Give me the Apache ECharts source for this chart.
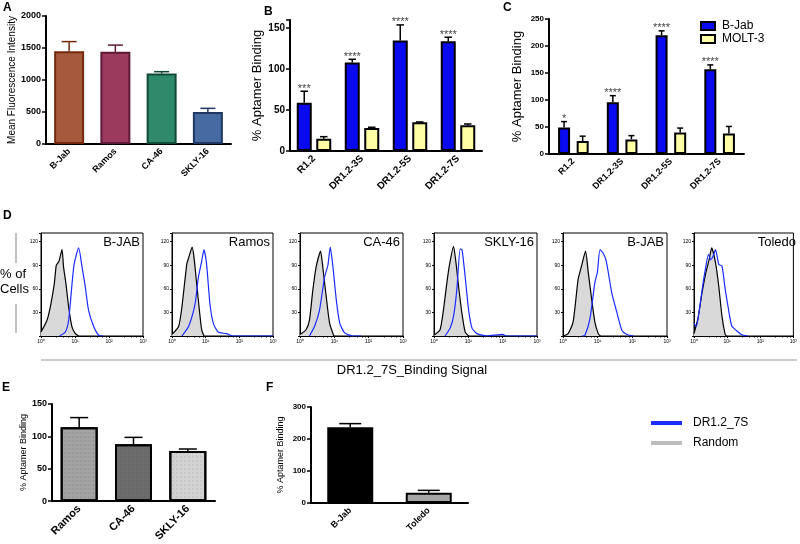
<!DOCTYPE html>
<html><head><meta charset="utf-8">
<script src="https://cdn.jsdelivr.net/npm/echarts@6/dist/echarts.min.js"></script>
<style>html,body{margin:0;padding:0;background:#fff}#c{width:800px;height:544px}</style>
</head><body><div id="c"></div><script>
const FONT = 'Liberation Sans, Arial, sans-serif';

// ---- Panel A ----
const aCats = ['B-Jab', 'Ramos', 'CA-46', 'SKLY-16'];
const aVals = [1450, 1440, 1100, 500];
const aErrs = [150, 105, 30, 57];

// ---- Panel B ----
const bCats = ['R1.2', 'DR1.2-3S', 'DR1.2-5S', 'DR1.2-7S'];
const bBjab = [59, 108, 135, 134];
const bBjabErr = [14, 4, 19, 5];
const bMolt = [15, 28, 35, 31.5];
const bMoltErr = [2.5, 1, 0.5, 1.5];
const bStars = ['***', '****', '****', '****'];

// ---- Panel C ----
const cCats = ['R1.2', 'DR1.2-3S', 'DR1.2-5S', 'DR1.2-7S'];
const cBjab = [49, 96, 220, 157];
const cBjabErr = [11, 12, 8, 8];
const cMolt = [24, 27, 40, 38];
const cMoltErr = [9, 7, 8, 13];
const cStars = ['*', '****', '****', '****'];

// ---- Panel E ----
const eCats = ['Ramos', 'CA-46', 'SKLY-16'];
const eVals = [114, 88, 77.5];
const eErrs = [15, 10.5, 3];

// ---- Panel F ----
const fCats = ['B-Jab', 'Toledo'];
const fVals = [237, 32];
const fErrs = [11, 7.5];

// ---- Panel D (flow histograms: [signal, % of cells]) ----
const dTitles = ['B-JAB', 'Ramos', 'CA-46', 'SKLY-16', 'B-JAB', 'Toledo'];
const dLogTicks = ['10\u2070', '10\u00b9', '10\u00b2', '10\u00b3'];
const rand1 = [[1,5],[1.5,20],[1.88,37],[2.47,67],[2.82,90],[3.38,95],[4.15,110],[4.6,88],[5.4,67],[6.5,37],[8.1,12],[10.2,3],[12.8,0]];
const apt1  = [[3.5,0],[5.2,5],[6.5,20],[8.2,67],[9.5,92],[12.8,112],[16.1,88],[20,63],[25,33],[35.5,12],[49.7,1],[69,0]];
const rand2 = [[1,2],[1.57,12],[1.97,37],[2.76,92],[3.1,99],[3.97,113],[4.5,100],[5.4,67],[6.5,33],[7.6,8],[8.9,0]];
const apt2  = [[1.97,0],[3.1,12],[4.85,41],[6.1,75],[7.6,95],[8.9,110],[10.6,92],[13.4,41],[16.9,16],[23.5,5],[41.6,3],[65,0],[1000,0]];
const rand3 = [[1,2],[1.5,8],[1.88,20],[2.36,58],[2.95,88],[3.96,108],[4.6,88],[5.8,50],[7.3,16],[9.5,1],[10,0]];
const apt3  = [[1.88,0],[2.64,12],[3.7,33],[5.2,75],[6.5,90],[7.6,113],[9.1,88],[11.4,46],[14.4,16],[20,4],[35,0],[60,0]];
const rand4 = [[1,1],[1.5,8],[1.88,33],[2.36,67],[2.76,88],[3.7,114],[4.4,92],[5.2,63],[6.5,29],[8.1,5],[10.2,0]];
const apt4  = [[2.1,0],[2.95,10],[3.7,25],[4.6,58],[5.8,111],[6.6,109],[8.1,75],[10.2,33],[12.8,10],[17.9,3],[35,0],[100,2],[130,0],[1000,0]];
const rand5 = [[1,0],[1.4,3],[1.96,18],[2.73,72],[3.42,89],[4.47,108],[5.35,81],[6.7,47],[8.3,18],[10.4,3],[12,0]];
const apt5  = [[3.5,0],[4.3,1],[6.0,22],[8.3,68],[9.8,81],[11.7,110],[14.6,105],[17.5,96],[20.4,80],[25.5,55],[35.8,30],[50,7],[70,2],[109,0]];
const rand6 = [[1,3],[1.31,22],[1.75,55],[2.29,81],[2.86,97],[3.42,112],[4.47,93],[5.6,63],[7.0,25],[8.7,2],[9.5,0]];
const apt6  = [[1,16],[1.17,12],[1.46,34],[1.83,64],[2.29,89],[2.74,104],[3.2,97],[3.74,101],[4.47,110],[5.6,91],[7.0,89],[8.7,60],[11,34],[13.7,13],[19,7],[26.8,2],[41.6,0]];
const dRandom = [rand1, rand2, rand3, rand4, rand5, rand6];
const dAptamer = [apt1, apt2, apt3, apt4, apt5, apt6];

// ---- styles / layout ----
const aFill = ['#a65a3c', '#9c3a5e', '#2f8a6c', '#476aa3'];
const aEdge = ['#74290f', '#5c1a36', '#124a38', '#1f3761'];
const eFill = ['#a3a3a3', '#6c6c6c', '#d2d2d2'];
const fFill = ['#000000', '#a6a6a6'];
const blue = '#0a0af0', yellow = '#ffffa6';
const dLeft = [41, 172, 300, 434, 563, 694];
const dWidth = [102, 101, 103, 103, 104, 105];

const grids = [
  {left: 46, top: 16, width: 185, height: 128},   // A
  {left: 290, top: 20, width: 192, height: 131},  // B
  {left: 549, top: 19, width: 195, height: 135},  // C
];
dLeft.forEach((l, i) => grids.push({left: l, top: 233, width: dWidth[i], height: 103,
  show: true, borderColor: '#000', borderWidth: 1, backgroundColor: 'transparent'}));
grids.push({left: 52, top: 404, width: 163, height: 102});  // E (index 9)
grids.push({left: 311, top: 407, width: 157, height: 96});  // F (index 10)

function catAxis(gi, cats, fs) {
  return {type: 'category', gridIndex: gi, data: cats,
    axisLine: {lineStyle: {color: '#000', width: 2}},
    axisTick: {alignWithLabel: true, length: 4, lineStyle: {color: '#000', width: 1.5}},
    axisLabel: {rotate: 45, fontSize: fs, fontWeight: 'bold', color: '#000', fontFamily: FONT, margin: 6, interval: 0}};
}
function valAxis(gi, max, interval, name, nfs, gap, fs, nbold) {
  return {type: 'value', gridIndex: gi, min: 0, max: max, interval: interval,
    name: name, nameLocation: 'middle', nameGap: gap,
    nameTextStyle: {fontSize: nfs, color: '#000', fontFamily: FONT, fontWeight: nbold ? 'bold' : 'normal'},
    axisLine: {show: true, lineStyle: {color: '#000', width: 2}},
    axisTick: {show: true, length: 4, lineStyle: {color: '#000', width: 1.5}},
    splitLine: {show: false},
    axisLabel: {fontSize: fs, fontWeight: 'bold', color: '#000', fontFamily: FONT, margin: 5,
      formatter: v => (v % interval === 0 ? String(v) : '')}};
}

const xAxes = [catAxis(0, aCats, 9), catAxis(1, bCats, 10), catAxis(2, cCats, 9)];
const yAxes = [
  valAxis(0, 2000, 500, 'Mean Fluorescence Intensity', 10, 18, 9),
  valAxis(1, 160, 50, '% Aptamer Binding', 13, 21, 10),
  valAxis(2, 250, 50, '% Aptamer Binding', 13, 25, 8),
];
for (let i = 0; i < 6; i++) {
  xAxes.push({type: 'log', logBase: 10, gridIndex: 3 + i, min: 1, max: 1000,
    axisLine: {lineStyle: {color: '#000', width: 1}},
    axisTick: {show: true, length: 2, lineStyle: {color: '#000'}},
    minorTick: {show: true, splitNumber: 5, length: 1.5, lineStyle: {color: '#000'}},
    splitLine: {show: false},
    axisLabel: {fontSize: 5, color: '#000', fontFamily: FONT, margin: 3,
      formatter: v => dLogTicks[Math.round(Math.log10(v))] || ''}});
  yAxes.push({type: 'value', gridIndex: 3 + i, min: 0, max: 131, interval: 30,
    axisLine: {lineStyle: {color: '#000', width: 1}},
    axisTick: {show: true, length: 2, lineStyle: {color: '#000'}},
    splitLine: {show: false},
    axisLabel: {fontSize: 5, color: '#000', fontFamily: FONT, margin: 3,
      formatter: v => (v > 0 && v % 30 === 0 ? String(v) : '')}});
}
xAxes.push(catAxis(9, eCats, 11));
yAxes.push(valAxis(9, 150, 50, '% Aptamer Binding', 9, 19, 9));
xAxes.push(catAxis(10, fCats, 9));
yAxes.push(valAxis(10, 300, 100, '% Aptamer Binding', 9, 26, 8));

function errSeries(gi, vals, errs, offset, capW, colors, lw, stars) {
  return {type: 'custom', xAxisIndex: gi, yAxisIndex: gi, z: 10, silent: true,
    data: vals.map((v, i) => [i, v, v + errs[i]]),
    renderItem: function (params, api) {
      const k = params.dataIndex;
      const p0 = api.coord([api.value(0), api.value(1)]);
      const p1 = api.coord([api.value(0), api.value(2)]);
      const x = p0[0] + offset;
      const col = Array.isArray(colors) ? colors[k] : colors;
      const ch = [
        {type: 'line', shape: {x1: x, y1: p0[1], x2: x, y2: p1[1]}, style: {stroke: col, lineWidth: lw}},
        {type: 'line', shape: {x1: x - capW / 2, y1: p1[1], x2: x + capW / 2, y2: p1[1]}, style: {stroke: col, lineWidth: lw}}
      ];
      if (stars) ch.push({type: 'text', x: x, y: p1[1] + 3,
        style: {text: stars[k], align: 'center', verticalAlign: 'bottom', fontSize: 11, fill: '#444', fontFamily: FONT}});
      return {type: 'group', children: ch};
    }};
}

const series = [];
// A
series.push({type: 'bar', xAxisIndex: 0, yAxisIndex: 0, barWidth: 30,
  data: aVals.map((v, i) => ({value: v, itemStyle: {color: aFill[i], borderColor: aEdge[i], borderWidth: 2}}))});
series.push(errSeries(0, aVals, aErrs, 0, 15, aEdge, 1.5));
// B and C grouped
const bW = 15, bGap = 0.3, cW = 12, cGap = 0.55;
function grouped(gi, bj, bjE, mo, moE, w, gap, stars) {
  const off = w * (1 + gap) / 2;
  series.push({type: 'bar', name: 'B-Jab', xAxisIndex: gi, yAxisIndex: gi, barWidth: w, barGap: (gap * 100) + '%',
    data: bj, itemStyle: {color: blue, borderColor: '#000', borderWidth: 2}});
  series.push({type: 'bar', name: 'MOLT-3', xAxisIndex: gi, yAxisIndex: gi, barWidth: w, barGap: (gap * 100) + '%',
    data: mo, itemStyle: {color: yellow, borderColor: '#000', borderWidth: 2}});
  series.push(errSeries(gi, bj, bjE, -off, w * 0.5, '#000', 1.5, stars));
  series.push(errSeries(gi, mo, moE, off, w * 0.5, '#000', 1.5));
}
grouped(1, bBjab, bBjabErr, bMolt, bMoltErr, bW, bGap, bStars);
grouped(2, cBjab, cBjabErr, cMolt, cMoltErr, cW, cGap, cStars);
// D
for (let i = 0; i < 6; i++) {
  series.push({type: 'line', name: 'Random', xAxisIndex: 3 + i, yAxisIndex: 3 + i, data: dRandom[i],
    showSymbol: false, smooth: 0.2, color: '#000', lineStyle: {color: '#000', width: 1.2},
    areaStyle: {color: '#d9d9d9', opacity: 1}, z: 2});
  series.push({type: 'line', name: 'DR1.2_7S', xAxisIndex: 3 + i, yAxisIndex: 3 + i, data: dAptamer[i],
    showSymbol: false, smooth: 0.2, color: '#1a2cff', lineStyle: {color: '#1a2cff', width: 1.2}, z: 3});
}
// E
series.push({type: 'bar', xAxisIndex: 9, yAxisIndex: 9, barWidth: 37,
  data: eVals.map((v, i) => ({value: v, itemStyle: {color: eFill[i], borderColor: '#000', borderWidth: 2,
    decal: {symbol: 'rect', symbolSize: 0.5, dashArrayX: [2, 2], dashArrayY: [2, 2], color: 'rgba(0,0,0,0.18)'}}}))});
series.push(errSeries(9, eVals, eErrs, 0, 18, '#000', 1.5));
// F
series.push({type: 'bar', xAxisIndex: 10, yAxisIndex: 10, barWidth: 46,
  data: fVals.map((v, i) => ({value: v, itemStyle: {color: fFill[i], borderColor: '#000', borderWidth: 2}}))});
series.push(errSeries(10, fVals, fErrs, 0, 22, '#000', 1.5));

const graphics = [
  {type: 'text', left: 3, top: 2, style: {text: 'A', fontSize: 12, fontWeight: 'bold', fontFamily: FONT, fill: '#000'}},
  {type: 'text', left: 264, top: 6, style: {text: 'B', fontSize: 12, fontWeight: 'bold', fontFamily: FONT, fill: '#000'}},
  {type: 'text', left: 503, top: 2, style: {text: 'C', fontSize: 12, fontWeight: 'bold', fontFamily: FONT, fill: '#000'}},
  {type: 'text', left: 3, top: 210, style: {text: 'D', fontSize: 12, fontWeight: 'bold', fontFamily: FONT, fill: '#000'}},
  {type: 'text', left: 2, top: 382, style: {text: 'E', fontSize: 12, fontWeight: 'bold', fontFamily: FONT, fill: '#000'}},
  {type: 'text', left: 266, top: 382, style: {text: 'F', fontSize: 12, fontWeight: 'bold', fontFamily: FONT, fill: '#000'}},
  {type: 'text', left: 0, top: 267, style: {text: '% of\nCells', fontSize: 13, lineHeight: 15, fontFamily: FONT, fill: '#000'}},
  {type: 'line', shape: {x1: 16, y1: 233, x2: 16, y2: 263}, style: {stroke: '#999', lineWidth: 1.2}},
  {type: 'line', shape: {x1: 16, y1: 304, x2: 16, y2: 333}, style: {stroke: '#999', lineWidth: 1.2}},
  {type: 'line', shape: {x1: 41, y1: 360, x2: 797, y2: 360}, style: {stroke: '#999', lineWidth: 1.2}},
  {type: 'text', x: 412, y: 370, style: {text: 'DR1.2_7S_Binding Signal', fontSize: 13, fontFamily: FONT, fill: '#000', align: 'center', verticalAlign: 'middle'}},
];
dTitles.forEach((t, i) => graphics.push({type: 'text', x: dLeft[i] + dWidth[i] - 3, y: 236,
  style: {text: t, fontSize: 13, fontFamily: FONT, fill: '#000', align: 'right', verticalAlign: 'top'}}));

const option = {
  animation: false,
  backgroundColor: '#fff',
  grid: grids, xAxis: xAxes, yAxis: yAxes, series: series, graphic: graphics,
  legend: [
    {data: ['B-Jab', 'MOLT-3'], left: 700, top: 20, orient: 'vertical', icon: 'rect', itemWidth: 14, itemHeight: 8,
      itemGap: 1, padding: 0, selectedMode: false,
      textStyle: {fontSize: 12, fontFamily: FONT, color: '#000', padding: [0, 0, 0, 2]}},
    {data: [{name: 'DR1.2_7S', itemStyle: {color: '#1a2cff'}}, {name: 'Random', itemStyle: {color: '#bdbdbd'}}],
      left: 651, top: 417, orient: 'vertical', icon: 'rect', itemWidth: 31, itemHeight: 4, itemGap: 8, padding: 0,
      selectedMode: false, itemStyle: {borderWidth: 0},
      textStyle: {fontSize: 12, fontFamily: FONT, color: '#000', padding: [0, 0, 0, 6]}}
  ]
};
echarts.init(document.getElementById('c')).setOption(option);
</script></body></html>
